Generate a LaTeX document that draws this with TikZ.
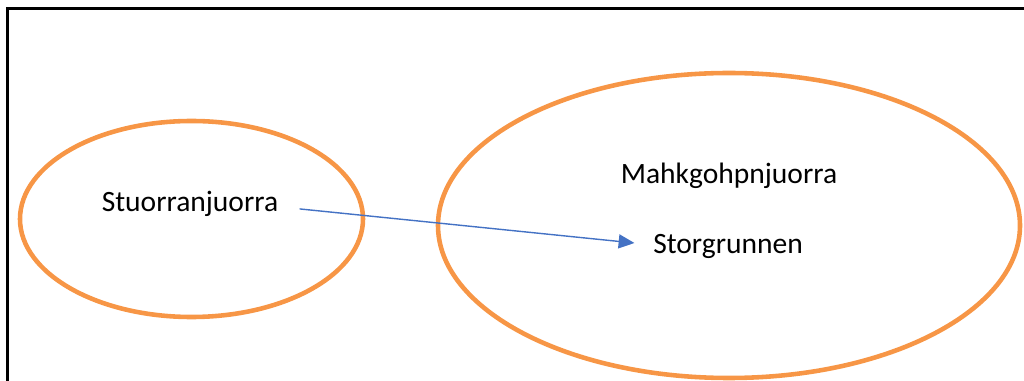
\documentclass[tikz,border=0pt]{standalone}
\usepackage{fontspec}
\setmainfont{Carlito}
\usepackage{tikz}
\usetikzlibrary{arrows.meta}
\definecolor{ringorange}{RGB}{247,150,70}
\definecolor{arrowblue}{RGB}{68,114,196}

\begin{document}
\begin{tikzpicture}[x=0.02cm,y=-0.02cm,ring/.style={draw=ringorange,line width=2.6pt},
	word/.style={font=\fontsize{16.8}{20}\selectfont,inner sep=2pt}]
	\useasboundingbox (0,0) rectangle (1024,381);
	\draw[line width=1.4pt] (7.5,385) -- (7.5,8.5) -- (1030,8.5);
	\draw[ring] (191.5,219) ellipse [x radius=171.5,y radius=98];
	\draw[ring] (729,225.5) ellipse [x radius=291,y radius=152.5];
	\node[word] (stuorr) at (190,204) {Stuorranjuorra};
	\node[word] (mahkg) at (729,176) {Mahkgohpnjuorra};
	\node[word] (storg) at (728,246) {Storgrunnen};
	\draw[arrowblue,line width=0.8pt,-{Triangle[length=9pt,width=8pt]}]
		([xshift=10pt,yshift=-2.8pt]stuorr.east) -- ([xshift=-8.5pt,yshift=1.7pt]storg.west);
\end{tikzpicture}
\end{document}
